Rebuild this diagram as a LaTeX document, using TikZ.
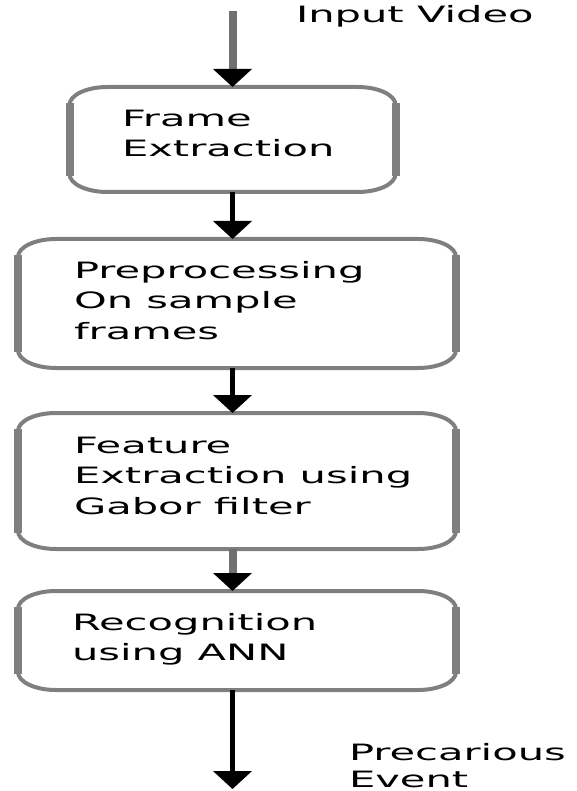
\documentclass[tikz,border=0pt]{standalone}
\usepackage{fontspec}
\usetikzlibrary{arrows.meta,calc}
\newfontfamily\wfont[FakeStretch=1.85]{DejaVu Sans}
\definecolor{boxgray}{HTML}{7F7F7F}
\definecolor{shaftgray}{HTML}{707070}
\tikzset{
  boxnode/.style={draw=none, inner sep=0pt, outer sep=0pt, rectangle},
  lbl/.style={font=\wfont\fontsize{22.5pt}{30.5pt}\selectfont, inner sep=0pt, outer sep=0pt, align=left, anchor=north west, text=black},
  blackarrow/.style={line width=5pt, draw=black, -{Triangle[width=38pt,length=18pt]}},
  grayarrow/.style={line width=8pt, draw=shaftgray, -{Triangle[width=38pt,length=18pt,color=black]}},
  boxline/.style={draw=boxgray, line width=4pt},
  sideline/.style={draw=boxgray, line width=8pt},
}
\newcommand\drawebox[1]{%
  \draw[boxline] let \p1=(#1.north west), \p2=(#1.south east) in
    ({\x1+38pt},\y1) -- ({\x2-38pt},\y1)
    .. controls ({\x2-17pt},\y1) and (\x2,{\y1-8pt}) .. (\x2,{\y1-18pt})
    -- (\x2,{\y2+18pt})
    .. controls (\x2,{\y2+8pt}) and ({\x2-17pt},\y2) .. ({\x2-38pt},\y2)
    -- ({\x1+38pt},\y2)
    .. controls ({\x1+17pt},\y2) and (\x1,{\y2+8pt}) .. (\x1,{\y2+18pt})
    -- (\x1,{\y1-18pt})
    .. controls (\x1,{\y1-8pt}) and ({\x1+17pt},\y1) .. ({\x1+38pt},\y1) -- cycle;
  \draw[sideline] let \p1=(#1.north west), \p2=(#1.south east) in
    (\x1,{\y1-16pt}) -- (\x1,{\y2+16pt})
    (\x2,{\y1-16pt}) -- (\x2,{\y2+16pt});
}
\begin{document}
\begin{tikzpicture}[x=1pt,y=-1pt]
  \useasboundingbox (0,0) rectangle (576,791);
  % boxes
  \node[boxnode, minimum width=326pt, minimum height=105pt] (b1) at (232.5,139.5) {};
  \node[boxnode, minimum width=438pt, minimum height=129pt] (b2) at (237,303.5) {};
  \node[boxnode, minimum width=438pt, minimum height=136pt] (b3) at (237,481) {};
  \node[boxnode, minimum width=438pt, minimum height=99pt] (b4) at (237,640.5) {};
  \drawebox{b1}
  \drawebox{b2}
  \drawebox{b3}
  \drawebox{b4}
  % labels
  \node[lbl] (l1) at (122,110) {Frame\\Extraction};
  \node[lbl] (l2) at (74,261) {Preprocessing\\On sample\\frames};
  \node[lbl] (l3) at (74,437) {Feature\\Extraction using\\Gabor filter};
  \node[lbl] (l4) at (72,613) {Recognition\\using ANN};
  \node[lbl, anchor=base west] (inlbl) at (296,23) {Input Video};
  \node[lbl, font=\wfont\fontsize{22.5pt}{27pt}\selectfont] (outlbl) at (349,743) {Precarious\\Event};
  % connectors
  \coordinate (in) at (232.5,11);
  \coordinate (out) at (232.5,789);
  \draw[grayarrow] (in) -- (b1.north);
  \draw[blackarrow] (b1.south) -- (b1.south |- b2.north);
  \draw[blackarrow] (b2.south -| b1.south) -- (b3.north -| b1.south);
  \draw[grayarrow] (b3.south -| b1.south) -- (b4.north -| b1.south);
  \draw[blackarrow] (b4.south -| b1.south) -- (out);
\end{tikzpicture}
\end{document}
